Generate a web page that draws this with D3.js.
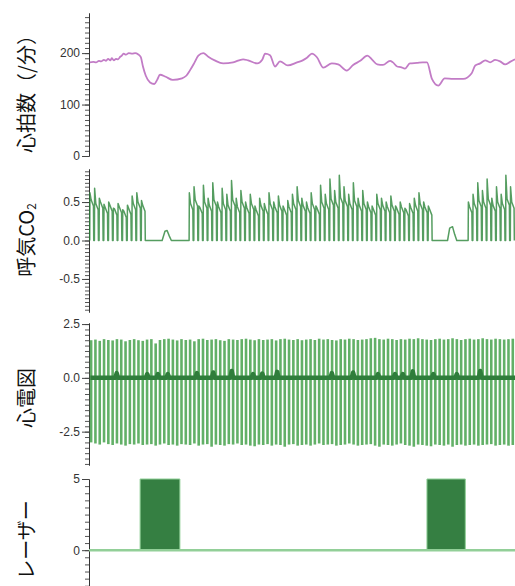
<!DOCTYPE html>
<html>
<head>
<meta charset="utf-8">
<script src="https://cdn.jsdelivr.net/npm/d3@7"></script>
<style>
  body { margin: 0; background: #fff; }
  .tick text { font-family: "Liberation Sans", Arial, sans-serif; font-size: 12px; fill: #333; }
  .ylab { font-family: "Noto Sans CJK JP", sans-serif; font-size: 20px; fill: #111; }
</style>
</head>
<body>
<svg id="chart" width="515" height="586"></svg>
<script>
// heart rate (/min), time in seconds
const hrTime = [0.1,0.6,1.0,1.4,1.7,2.1,2.4,2.7,3.0,3.2,3.5,3.8,4.1,4.4,4.6,4.9,5.2,5.6,6.1,6.5,6.9,7.3,7.6,8.0,8.6,9.2,9.6,10.0,10.8,11.8,13.1,13.7,14.2,14.8,15.4,16.1,16.8,17.7,18.9,20.3,21.7,22.4,23.7,24.4,24.8,25.5,26.2,26.9,28.0,29.3,30.1,30.7,31.4,32.1,33.0,34.2,35.1,36.3,37.2,38.2,39.2,39.9,40.6,41.4,42.4,42.8,43.4,43.9,44.5,45.2,46.2,47.0,47.6,48.3,49.2,50.1,51.3,52.7,53.9,54.4,55.1,55.8,56.5,57.2,57.9,58.6,59.3,60.0];
const hrValue = [182,183,182,185,184,187,185,189,186,190,186,189,188,193,195,199,197,200,199,200,198,192,174,156,143,140,148,158,154,148,151,156,166,180,195,200,193,186,180,182,188,186,180,187,199,196,174,184,176,182,186,191,199,192,172,180,178,166,177,185,195,187,178,177,185,182,174,173,170,180,181,182,182,150,137,151,150,150,161,176,180,186,182,187,184,178,183,188];

// exhaled CO2: breathing segments, each breath as [peak, end-of-plateau]
const breathPeriod = 0.66;
const co2SegStart = [0.1, 14.1, 53.4];
const co2SegA = [[0.62,0.45],[0.68,0.4],[0.55,0.42],[0.47,0.35],[0.5,0.38],[0.42,0.33],[0.48,0.36],[0.4,0.3],[0.46,0.34],[0.58,0.4],[0.62,0.42],[0.52,0.38]];
const co2SegB = [[0.62,0.4],[0.7,0.45],[0.45,0.35],[0.72,0.42],[0.55,0.38],[0.75,0.45],[0.5,0.36],[0.68,0.4],[0.6,0.38],[0.78,0.45],[0.55,0.36],[0.65,0.42],[0.5,0.35],[0.6,0.4],[0.45,0.32],[0.55,0.38],[0.48,0.34],[0.62,0.4],[0.5,0.36],[0.58,0.38],[0.45,0.33],[0.52,0.36],[0.6,0.4],[0.7,0.44],[0.55,0.38],[0.5,0.35],[0.62,0.4],[0.45,0.34],[0.72,0.42],[0.6,0.4],[0.8,0.46],[0.65,0.42],[0.85,0.48],[0.7,0.44],[0.6,0.4],[0.75,0.44],[0.55,0.38],[0.65,0.4],[0.5,0.36],[0.45,0.33],[0.6,0.4],[0.55,0.38],[0.5,0.36],[0.58,0.38],[0.45,0.34],[0.5,0.36],[0.42,0.32],[0.48,0.35],[0.55,0.38],[0.62,0.4],[0.5,0.36],[0.45,0.33]];
const co2SegC = [[0.5,0.36],[0.6,0.4],[0.75,0.44],[0.65,0.42],[0.8,0.46],[0.55,0.38],[0.7,0.42],[0.6,0.4],[0.85,0.46],[0.7,0.42]];
// flat stretches (apnoea) between segments: [time, value]
const co2Flat1 = [[8.0,0],[10.3,0],[10.7,0.12],[11.0,0.13],[11.3,0.06],[11.6,0],[14.1,0]];
const co2Flat2 = [[48.4,0],[50.5,0],[50.8,0.16],[51.2,0.18],[51.5,0.08],[51.8,0],[53.4,0]];

// ECG: beat spikes (upper / lower ends, mV) and baseline bumps
const beatPeriod = 0.606;
const ecgTop = [1.75,1.78,1.72,1.8,1.76,1.74,1.8,1.78,1.7,1.76,1.8,1.75,1.72,1.78,1.8,1.6,1.76,1.8,1.82,1.78,1.74,1.8,1.76,1.78,1.7,1.8,1.82,1.76,1.78,1.8,1.75,1.72,1.8,1.78,1.76,1.8,1.82,1.78,1.75,1.8,1.76,1.78,1.8,1.74,1.8,1.82,1.78,1.76,1.8,1.75,1.78,1.8,1.76,1.82,1.78,1.8,1.76,1.74,1.8,1.78,1.82,1.8,1.76,1.78,1.8,1.84,1.86,1.8,1.78,1.82,1.8,1.76,1.8,1.78,1.82,1.8,1.84,1.8,1.78,1.76,1.8,1.82,1.78,1.8,1.84,1.8,1.76,1.8,1.82,1.78,1.8,1.84,1.8,1.78,1.82,1.8,1.78,1.8,1.82];
const ecgBottom = [-3.0,-3.05,-3.1,-3.0,-3.08,-3.12,-3.05,-3.1,-3.15,-3.08,-3.1,-3.05,-3.12,-3.1,-3.08,-3.15,-3.1,-3.05,-3.12,-3.1,-3.15,-3.08,-3.1,-3.12,-3.05,-3.15,-3.1,-3.08,-3.2,-3.1,-3.12,-3.15,-3.08,-3.1,-3.05,-3.12,-3.1,-3.15,-3.18,-3.1,-3.12,-3.08,-3.15,-3.1,-3.12,-3.2,-3.1,-3.08,-3.15,-3.12,-3.1,-3.15,-3.1,-3.05,-3.12,-3.1,-3.08,-3.15,-3.12,-3.1,-3.05,-3.1,-3.15,-3.12,-3.1,-3.08,-3.15,-3.2,-3.1,-3.12,-3.15,-3.1,-3.05,-3.12,-3.15,-3.2,-3.1,-3.12,-3.15,-3.18,-3.1,-3.12,-3.15,-3.1,-3.2,-3.12,-3.1,-3.15,-3.12,-3.1,-3.15,-3.12,-3.1,-3.08,-3.15,-3.12,-3.1,-3.15,-3.12];
const ecgBase = [[0.2,0],[3.7,0],[3.9,0.22],[4.1,0],[8.0,0],[8.2,0.18],[8.4,0],[9.5,0],[9.7,0.18],[9.9,0],[10.9,0],[11.1,0.18],[11.3,0],[15.0,0],[15.2,0.22],[15.4,0],[17.3,0],[17.5,0.25],[17.7,0],[19.9,0],[20.1,0.32],[20.3,0],[22.9,0],[23.1,0.18],[23.3,0],[24.2,0],[24.4,0.2],[24.6,0],[26.3,0],[26.5,0.28],[26.7,0],[34.0,0],[34.2,0.22],[34.4,0],[37.0,0],[37.2,0.25],[37.4,0],[40.5,0],[40.7,0.18],[40.9,0],[42.9,0],[43.1,0.18],[43.3,0],[44.0,0],[44.2,0.18],[44.4,0],[45.4,0],[45.6,0.3],[45.8,0],[48.3,0],[48.5,0.18],[48.7,0],[51.6,0],[51.8,0.18],[52.0,0],[54.9,0],[55.1,0.32],[55.3,0],[60,0]];

// laser on/off (step series)
const laserTime = [0,7.2,7.2,12.8,12.8,47.6,47.6,53.0,53.0,60];
const laserValue = [0,0,5,5,0,0,5,5,0,0];

const svg = d3.select('#chart');
const x = d3.scaleLinear().domain([0, 60]).range([89, 515]);

const panels = [
  { label: '心拍数（/分）', domain: [0, 278], range: [156, 13], ticks: [0, 100, 200], minor: 10, fmt: d => d, ly: 89 },
  { label: 'co2', domain: [-0.93, 0.93], range: [312, 169], ticks: [-0.5, 0, 0.5], minor: 0.05, fmt: d => d.toFixed(1), ly: 240 },
  { label: '心電図', domain: [-4.05, 2.55], range: [465, 323], ticks: [-2.5, 0, 2.5], minor: 0.25, fmt: d => d.toFixed(1), ly: 398 },
  { label: 'レーザー', domain: [-3.5, 5], range: [600, 479], ticks: [0, 5], minor: 0.5, fmt: d => d, ly: 540 }
];

panels.forEach(p => {
  p.y = d3.scaleLinear().domain(p.domain).range(p.range);
  const minorVals = d3.range(Math.ceil(p.domain[0] / p.minor - 1e-9), Math.floor(p.domain[1] / p.minor + 1e-9) + 1)
    .map(k => k * p.minor);
  const gm = svg.append('g').attr('transform', 'translate(89,0)');
  gm.call(d3.axisLeft(p.y).tickValues(minorVals).tickSize(4).tickSizeOuter(0).tickFormat(''));
  const g = svg.append('g').attr('transform', 'translate(89,0)');
  g.call(d3.axisLeft(p.y).tickValues(p.ticks).tickSize(7).tickSizeOuter(0).tickFormat(p.fmt));
  svg.selectAll('path.domain').attr('stroke', '#333');
  gm.selectAll('line').attr('stroke', '#555');
  g.selectAll('line').attr('stroke', '#444');
  g.selectAll('text').attr('x', -9);

  const t = svg.append('text').attr('class', 'ylab')
    .attr('text-anchor', 'middle').attr('dominant-baseline', 'central')
    .attr('transform', `translate(25,${p.ly}) rotate(-90)`);
  if (p.label === 'co2') {
    t.append('tspan').text('呼気CO');
    t.append('tspan').attr('font-size', 12).attr('dy', 5).text('2');
  } else {
    t.text(p.label);
  }
});

// heart rate
const y1 = panels[0].y;
svg.append('path')
  .datum(d3.zip(hrTime, hrValue))
  .attr('fill', 'none').attr('stroke', '#c27cc6').attr('stroke-width', 1.8)
  .attr('stroke-linejoin', 'round')
  .attr('d', d3.line().curve(d3.curveMonotoneX).x(d => x(d[0])).y(d => y1(d[1])));

// exhaled CO2
const y2 = panels[1].y;
const co2Points = [];
[co2SegA, co2SegB, co2SegC].forEach((seg, si) => {
  seg.forEach((b, i) => {
    const t0 = co2SegStart[si] + i * breathPeriod;
    co2Points.push([t0, 0], [t0 + 0.05 * breathPeriod, b[0]], [t0 + 0.3 * breathPeriod, b[1] + 0.08],
      [t0 + 0.8 * breathPeriod, b[1]], [t0 + 0.86 * breathPeriod, 0]);
  });
  if (si === 0) co2Points.push(...co2Flat1);
  if (si === 1) co2Points.push(...co2Flat2);
});
svg.append('path')
  .datum(co2Points)
  .attr('fill', 'none').attr('stroke', '#2a8538').attr('stroke-width', 1.5)
  .attr('stroke-opacity', 0.8)
  .attr('stroke-linejoin', 'round')
  .attr('d', d3.line().x(d => x(d[0])).y(d => y2(d[1])));

// ECG
const y3 = panels[2].y;
svg.append('g').selectAll('line')
  .data(ecgTop)
  .join('line')
  .attr('x1', (d, i) => x(0.3 + i * beatPeriod))
  .attr('x2', (d, i) => x(0.3 + i * beatPeriod))
  .attr('y1', d => y3(d))
  .attr('y2', (d, i) => y3(ecgBottom[i]))
  .attr('stroke', '#62b067').attr('stroke-width', 2.6);
svg.append('path')
  .datum(ecgBase)
  .attr('fill', 'none').attr('stroke', '#2f7d3b').attr('stroke-width', 4.5)
  .attr('stroke-linejoin', 'round')
  .attr('d', d3.line().x(d => x(d[0])).y(d => y3(d[1])));

// laser
const y4 = panels[3].y;
const laser = d3.zip(laserTime, laserValue);
svg.append('path')
  .datum(laser)
  .attr('fill', '#357f42').attr('stroke', '#8fcf96').attr('stroke-width', 1)
  .attr('d', d3.area().x(d => x(d[0])).y0(y4(0)).y1(d => y4(d[1])));
svg.append('line')
  .attr('x1', x(0)).attr('x2', x(60))
  .attr('y1', y4(0)).attr('y2', y4(0))
  .attr('stroke', '#92cf98').attr('stroke-width', 2.5);
</script>
</body>
</html>
